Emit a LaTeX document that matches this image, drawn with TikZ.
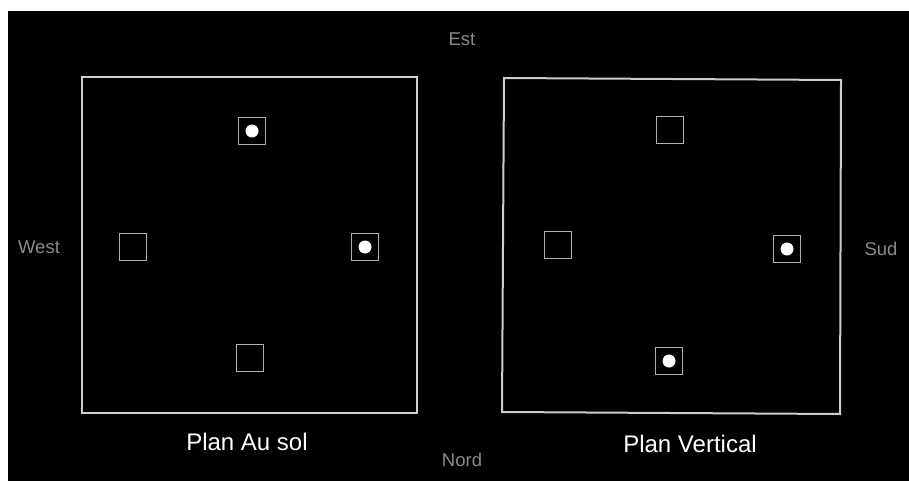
\documentclass[tikz,border=0pt]{standalone}
\usepackage{fontspec}
\setmainfont{Liberation Sans}
\definecolor{framecol}{HTML}{CDCDCD}
\definecolor{sqcol}{HTML}{B0B0B0}
\definecolor{dircol}{HTML}{8A8A8A}
\begin{document}
\begin{tikzpicture}[x=1pt,y=-1pt,
  sq/.style={draw=sqcol,line width=1.8pt,minimum size=27pt,inner sep=0pt},
  dot/.style={circle,fill=white,minimum size=13pt,inner sep=0pt},
  dirlbl/.style={text=dircol,font=\fontsize{18.5}{21}\selectfont,inner sep=0pt},
  planlbl/.style={text=white,font=\fontsize{24}{28}\selectfont,inner sep=0pt},
  frame/.style={draw=framecol,line width=2pt}]
\useasboundingbox (0,0) rectangle (909,481);
\fill[white] (0,0) rectangle (909,481);
\fill[black] (8,11) rectangle (909,481);
% frames
\draw[frame] (82,77) rectangle (417,413);
\draw[frame] (504,78) -- (841,80) -- (840,414) -- (502,412) -- cycle;
% left plan squares
\node[sq] (lt) at (252,131) {};
\node[dot] (ltd) at (lt) {};
\node[sq] (ll) at (133,247) {};
\node[sq] (lr) at (365,247) {};
\node[dot] (lrd) at (lr) {};
\node[sq] (lb) at (250,358) {};
% right plan squares
\node[sq] (rt) at (670,130) {};
\node[sq] (rl) at (558,245) {};
\node[sq] (rr) at (787,249) {};
\node[dot] (rrd) at (rr) {};
\node[sq] (rb) at (669,361) {};
\node[dot] (rbd) at (rb) {};
% direction labels
\node[dirlbl] (est) at (462,39) {Est};
\node[dirlbl] (west) at (39,247) {West};
\node[dirlbl] (sud) at (881,249) {Sud};
\node[dirlbl] (nord) at (462,460) {Nord};
% plan labels
\node[planlbl] (pas) at (247,442) {Plan Au sol};
\node[planlbl] (pv) at (690,444) {Plan Vertical};
\end{tikzpicture}
\end{document}
